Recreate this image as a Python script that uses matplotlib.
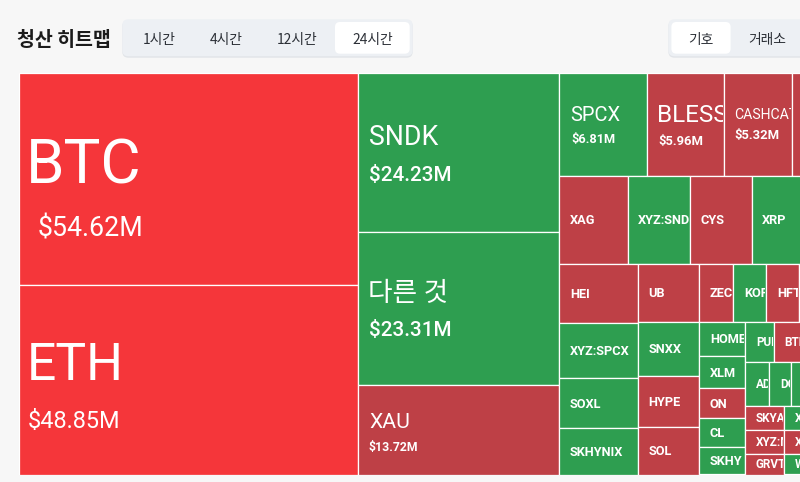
import matplotlib
matplotlib.use("Agg")
import matplotlib.pyplot as plt
from matplotlib.patches import Rectangle, FancyBboxPatch

# ---------------- data ----------------
title = "청산 히트맵"
period_tabs = ["1시간", "4시간", "12시간", "24시간"]
group_tabs = ["기호", "거래소"]

symbols = ["BTC", "ETH", "SNDK", "다른 것", "XAU",
           "SPCX", "BLESS", "CASHCAT", "ENA",
           "XAG", "XYZ:SNDK", "CYS", "XRP", "ASTER",
           "HEI", "XYZ:SPCX", "SOXL", "SKHYNIX",
           "UB", "SNXX", "HYPE", "SOL",
           "ZEC", "KORU", "HFT", "LINK", "SUI",
           "HOME", "XLM", "ON", "CL", "SKHY",
           "PUMP", "BTR", "AVAX", "LTC",
           "ADA", "DOGE", "FARTCOIN", "TAO", "AAVE",
           "SKYAI", "XYZ:MU", "GRVT",
           "XPL", "XMR", "WLD",
           "WIF", "TRUMP", "PEPE", "NEAR", "UNI"]
liquidations_musd = [54.62, 48.85, 24.23, 23.31, 13.72,
                     6.81, 5.96, 5.32, 5.10,
                     4.56, 4.14, 4.13, 3.56, 3.52,
                     3.50, 3.32, 2.97, 2.73,
                     2.72, 2.53, 2.39, 2.25,
                     1.50, 1.45, 1.43, 1.30, 1.28,
                     1.19, 1.15, 1.03, 1.03, 0.95,
                     0.86, 0.85, 0.85, 0.84,
                     0.80, 0.735, 0.735, 0.735, 0.735,
                     0.70, 0.70, 0.61,
                     0.60, 0.60, 0.52,
                     0.50, 0.48, 0.45, 0.40, 0.306]
# R = strong red, r = red, g = green
tone = ["R", "R", "g", "g", "r",
        "g", "r", "r", "r",
        "r", "g", "r", "g", "g",
        "r", "g", "g", "g",
        "r", "g", "r", "r",
        "r", "g", "r", "r", "g",
        "g", "g", "r", "g", "g",
        "g", "r", "g", "r",
        "g", "g", "g", "r", "g",
        "r", "r", "r",
        "g", "r", "g",
        "g", "r", "g", "r", "g"]
n_value_labels = 9   # cells that also show the $ amount

# ---------------- style ----------------
FIG_W, FIG_H = 800, 482
MAP_LEFT, MAP_TOP, MAP_W, MAP_H = 19, 73, 838.5, 401.5
PT = 0.72  # px -> pt at dpi 100
TONE_COLORS = {"R": "#F5363A", "r": "#BE4046", "g": "#2E9E50"}
BG = "#F7F7F7"
LABEL_FONT = ["Roboto", "Noto Sans CJK KR", "DejaVu Sans"]
CJK_FONT = ["Noto Sans CJK KR", "DejaVu Sans"]

# name_px, value_px, name_dx, value_dx, name_baseline_dy, value_baseline_dy, value_weight
big_style = {
    "BTC": (61.9, 26.7, 7.0, 18.7, 4.3, 57.3, "normal"),
    "ETH": (51.6, 23.5, 7.9, 9.1, 0.5, 47.8, "normal"),
    "SNDK": (26.7, 20.7, 10.2, 10.5, -7.3, 28.4, "medium"),
    "다른 것": (26.7, 20.7, 9.5, 10.5, -7.0, 28.3, "medium"),
    "XAU": (21.1, 12.2, 10.8, 10.5, -1.5, 21.6, "bold"),
    "SPCX": (20.1, 12.7, 11.2, 11.6, -3.3, 19.0, "bold"),
    "BLESS": (24.3, 13.0, 10.4, 11.7, -2.0, 21.0, "bold"),
    "CASHCAT": (14.0, 13.0, 10.9, 11.1, -5.0, 15.0, "bold"),
    "ENA": (14.0, 13.0, 10.9, 11.1, -5.0, 15.0, "bold"),
}

PHI = (1 + 5 ** 0.5) / 2


def squarify(values, x0, y0, x1, y1, ratio=PHI):
    """d3-style squarified treemap (rows laid out in value order)."""
    rects = [None] * len(values)
    n = len(values)
    i0 = i1 = 0
    value = float(sum(values))
    while i0 < n:
        dx, dy = x1 - x0, y1 - y0
        sum_v = values[i1]
        i1 += 1
        min_v = max_v = sum_v
        alpha = max(dy / dx, dx / dy) / (value * ratio)
        beta = sum_v * sum_v * alpha
        min_ratio = max(max_v / beta, beta / min_v)
        while i1 < n:
            nv = values[i1]
            s2 = sum_v + nv
            mn, mx = min(min_v, nv), max(max_v, nv)
            beta = s2 * s2 * alpha
            new_ratio = max(mx / beta, beta / mn)
            if new_ratio > min_ratio:
                break
            sum_v, min_v, max_v, min_ratio = s2, mn, mx, new_ratio
            i1 += 1
        if dx < dy:  # horizontal row at top
            yb = y0 + dy * sum_v / value
            xx = x0
            for i in range(i0, i1):
                w = dx * values[i] / sum_v
                rects[i] = (xx, y0, w, yb - y0)
                xx += w
            y0 = yb
        else:  # vertical column at left
            xb = x0 + dx * sum_v / value
            yy = y0
            for i in range(i0, i1):
                h = dy * values[i] / sum_v
                rects[i] = (x0, yy, xb - x0, h)
                yy += h
            x0 = xb
        value -= sum_v
        i0 = i1
    return rects


fig = plt.figure(figsize=(FIG_W / 100, FIG_H / 100), dpi=100)
fig.patch.set_facecolor(BG)

# ---------------- treemap ----------------
ax = fig.add_axes([MAP_LEFT / FIG_W, 1 - (MAP_TOP + MAP_H) / FIG_H,
                   MAP_W / FIG_W, MAP_H / FIG_H])
ax.set_xlim(0, MAP_W)
ax.set_ylim(MAP_H, 0)
ax.axis("off")

cells = squarify(liquidations_musd, 0, 0, MAP_W, MAP_H)
for i, (sym, val, tn, (x, y, w, h)) in enumerate(zip(symbols, liquidations_musd, tone, cells)):
    rect = Rectangle((x, y), w, h, facecolor=TONE_COLORS[tn],
                     edgecolor="white", linewidth=0.9)
    ax.add_patch(rect)
    clip = Rectangle((x, y), w - 1.0, h, transform=ax.transData)
    cy = y + h / 2
    texts = []
    if i < n_value_labels and sym in big_style:
        npx, vpx, ndx, vdx, ndy, vdy, vw = big_style[sym]
        texts.append(ax.text(x + ndx, cy + ndy, sym, color="white", fontsize=npx * PT,
                             family=LABEL_FONT, ha="left", va="baseline"))
        texts.append(ax.text(x + vdx, cy + vdy, f"${val:.2f}M", color="white",
                             fontsize=vpx * PT, family=LABEL_FONT, fontweight=vw,
                             ha="left", va="baseline"))
    else:
        px = 12.7 if w * h >= 1200 else 11.7
        texts.append(ax.text(x + 10.5, cy + 0.711 * px / 2, sym, color="white",
                             fontsize=px * PT, family=LABEL_FONT, fontweight="bold",
                             ha="left", va="baseline"))
    for t in texts:
        t.set_clip_on(True)
        t.set_clip_path(clip)

# ---------------- header ----------------
hx = fig.add_axes([0, 0, 1, 1])
hx.set_xlim(0, FIG_W)
hx.set_ylim(FIG_H, 0)
hx.axis("off")

hx.text(17, 45.6, title, fontsize=19.5 * PT, fontweight="bold", family=CJK_FONT,
        color="#1B1B1B", ha="left", va="baseline")


def tab_group(x0, x1, labels, centers, sel_x0, sel_x1):
    hx.add_patch(FancyBboxPatch((x0, 20.3), x1 - x0, 37.4,
                                boxstyle="round,pad=0,rounding_size=6",
                                facecolor="#E1E4E8", edgecolor="none"))
    hx.add_patch(FancyBboxPatch((x0, 19.3), x1 - x0, 37.0,
                                boxstyle="round,pad=0,rounding_size=6",
                                facecolor="#EDF0F4", edgecolor="none"))
    hx.add_patch(FancyBboxPatch((sel_x0, 22.0), sel_x1 - sel_x0, 31.7,
                                boxstyle="round,pad=0,rounding_size=5",
                                facecolor="white", edgecolor="none"))
    for lab, cx in zip(labels, centers):
        hx.text(cx, 43.8, lab, fontsize=13.8 * PT, family=CJK_FONT,
                color="#2B2F36", ha="center", va="baseline")


tab_group(122.3, 412.7, period_tabs, [159.2, 226.0, 297.2, 372.3], 335.0, 409.7)
tab_group(668.4, 830.0, group_tabs, [700.5, 766.8], 671.4, 730.6)

fig.savefig("out.png", dpi=100, facecolor=BG)
